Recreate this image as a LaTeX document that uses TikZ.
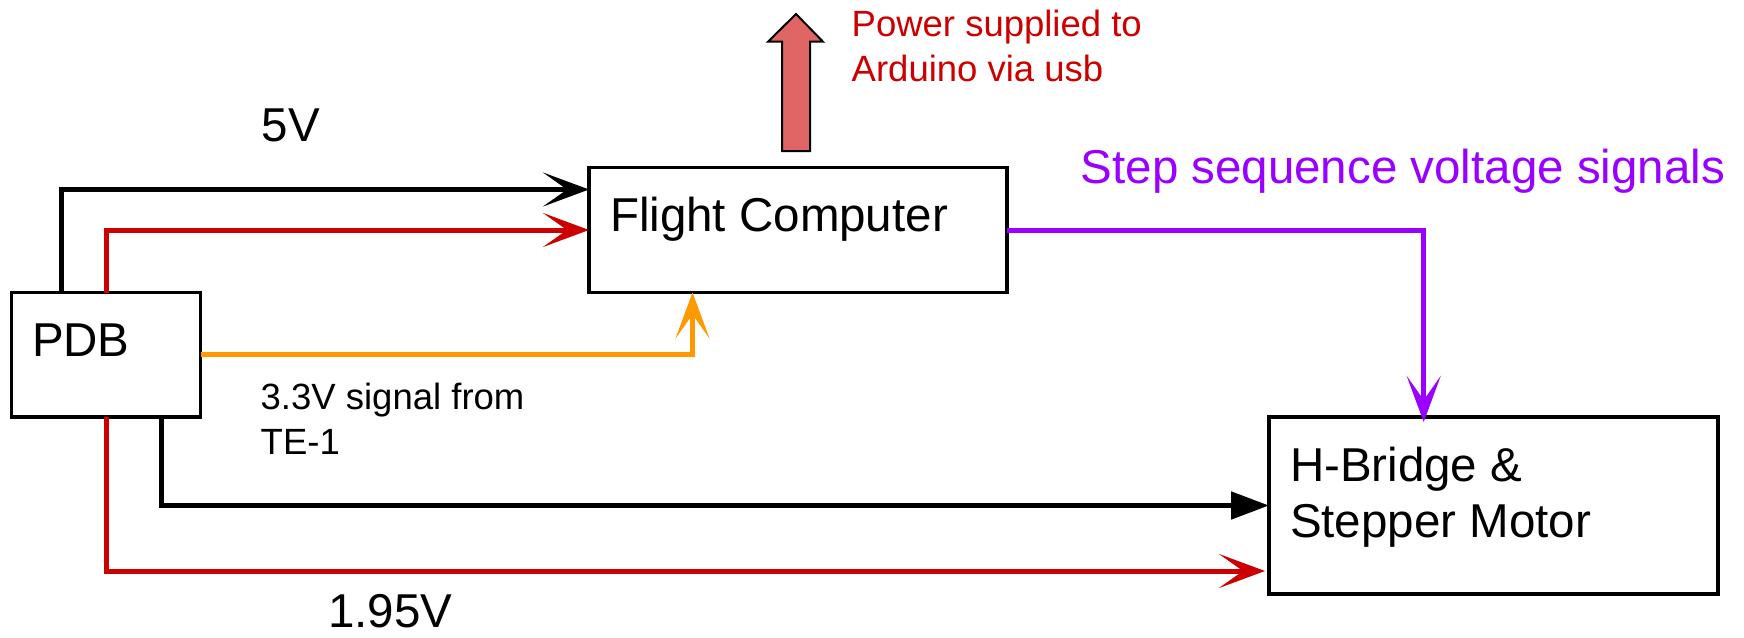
\documentclass[tikz,border=0pt]{standalone}
\usepackage{fontspec}
\setmainfont{Liberation Sans}
\usetikzlibrary{arrows.meta,calc}
\definecolor{wred}{HTML}{CC0000}
\definecolor{worange}{HTML}{FF9900}
\definecolor{wpurple}{HTML}{9900FF}
\definecolor{bfill}{HTML}{E06666}
\begin{document}
\begin{tikzpicture}[x=1pt,y=-1pt,
  box/.style={draw=black, line width=3.5pt, inner sep=0pt, outer sep=0pt, fill=white, anchor=north west},
  bigtext/.style={anchor=base west, inner sep=0pt, outer sep=0pt, font=\fontsize{47.5}{56}\selectfont},
  smalltext/.style={anchor=base west, inner sep=0pt, outer sep=0pt, align=left, font=\fontsize{36.5}{44.7}\selectfont},
  wire/.style={line width=5pt},
  sth/.style={-{Stealth[length=46pt,width=34pt,inset=24pt]}},
  tri/.style={-{Triangle[length=38pt,width=27pt]}},
  blockarrow/.style={draw=black, line width=2pt, fill=bfill, line join=miter}]
\useasboundingbox (0,0) rectangle (1744,637);
% boxes
\node[box, minimum width=189pt, minimum height=124.5pt] (pdb) at (11.5,292.5) {};
\node[box, minimum width=418pt, minimum height=125pt] (fc) at (589,167.5) {};
\node[box, minimum width=449pt, minimum height=177pt] (hb) at (1269,417) {};
% box texts (multi-line nodes: base anchor is the last line)
\node[bigtext] (pdbt) at (32,356.7) {PDB};
\node[bigtext] (fct) at (610,231) {Flight Computer};
\node[bigtext, align=left] (hbt) at (1290,537.7) {H-Bridge \&\\Stepper Motor};
% labels
\node[bigtext] (v5) at (261.7,141.7) {5V};
\node[bigtext] (v195) at (328.3,627) {1.95V};
\node[bigtext, text=wpurple] (stept) at (1080.7,183.3) {Step sequence voltage signals};
\node[smalltext] (te) at (260.7,454) {3.3V signal from\\TE-1};
\node[smalltext, text=wred] (pwr) at (851.7,81) {Power supplied to\\Arduino via usb};
% wires
\draw[wire, sth] ([xshift=49.5pt]pdb.north west) |- ([yshift=-22pt]fc.north west);
\draw[wire, wred, sth] ([xshift=94.5pt]pdb.north west) |- (fc.west);
\draw[wire, worange, sth] (pdb.east) -| ([xshift=-105.5pt]fc.south);
\draw[wire, tri] ([xshift=150.2pt]pdb.south west) |- (hb.west);
\draw[wire, wred, sth] ([xshift=94.5pt]pdb.south west) |- ([xshift=-4pt,yshift=-65.5pt]hb.west);
\draw[wire, wpurple, sth] (fc.east) -| ([xshift=-69.8pt,yshift=-5pt]hb.north);
% block arrow (power to Arduino)
\draw[blockarrow] (782,151) -- (782,41.7) -- (768,41.7) -- (796,14) -- (823,41.7) -- (810,41.7) -- (810,151) -- cycle;
\end{tikzpicture}
\end{document}
